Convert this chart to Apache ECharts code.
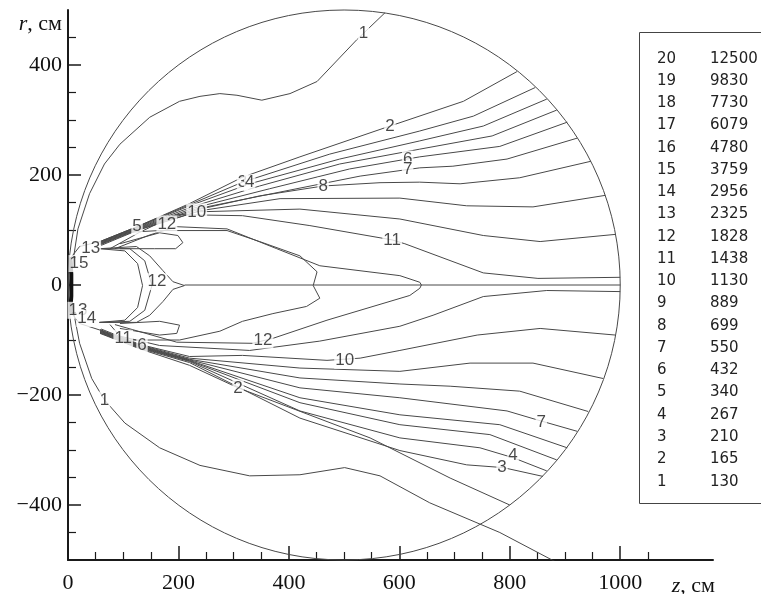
<!DOCTYPE html>
<html>
<head>
<meta charset="utf-8">
<script src="https://cdn.jsdelivr.net/npm/echarts@6/dist/echarts.min.js"></script>
<style>
  html, body { margin: 0; padding: 0; background: #fff; }
  #chart { width: 761px; height: 594px; }
</style>
</head>
<body>
<div id="chart"></div>
<script>
// Level table: contour number and the value it stands for
const levelIds = [20, 19, 18, 17, 16, 15, 14, 13, 12, 11, 10, 9, 8, 7, 6, 5, 4, 3, 2, 1];
const levelValues = [12500, 9830, 7730, 6079, 4780, 3759, 2956, 2325, 1828, 1438, 1130, 889, 699, 550, 432, 340, 267, 210, 165, 130];

// Axis ticks (cm)
const zMajorTicks = [0, 200, 400, 600, 800, 1000];
const zMinorTicks = [50, 100, 150, 250, 300, 350, 450, 500, 550, 650, 700, 750, 850, 900, 950, 1050];
const rMajorTicks = [-400, -200, 0, 200, 400];
const rMinorTicks = [-450, -350, -300, -250, -150, -100, -50, 50, 100, 150, 250, 300, 350, 450];

// Spherical boundary of the calculation domain
const sphereCenter = [500, 0];
const sphereRadius = 500;

// Contour lines, points as [z, r] in cm
const iso1Upper = [[3,0],[7,30],[18,102],[39,166],[66,220],[94,256],[148,305],[202,334],[239,343],[275,348],[306,345],[351,336],[402,348],[451,370],[523,446],[574,495]];
const iso1Lower = [[3,0],[7,-33],[21,-106],[43,-170],[66,-209],[103,-251],[166,-296],[239,-328],[329,-347],[420,-345],[501,-332],[565,-347],[655,-396],[782,-450],[905,-515]];
const iso2Upper = [[58,79],[125,106],[220,148],[316,196],[420,233],[583,289],[716,334],[813,388]];
const iso3Upper = [[58,79],[125,106],[220,146],[316,187],[474,238],[637,280],[734,307],[846,359]];
const iso4Upper = [[58,78],[125,105],[220,144],[329,184],[492,229],[637,262],[752,289],[867,338]];
const iso5Upper = [[58,77],[125,104],[224,142],[347,180],[492,220],[637,247],[768,271],[885,318]];
const iso6Upper = [[58,76],[125,103],[228,140],[365,175],[510,211],[637,233],[782,252],[904,296]];
const iso7Upper = [[58,75],[125,102],[231,138],[384,169],[529,198],[637,213],[697,216],[795,229],[922,267]];
const iso8Upper = [[58,74],[125,101],[235,137],[347,162],[462,180],[565,186],[637,187],[710,184],[818,195],[947,225]];
const iso9Upper = [[58,73],[125,100],[239,135],[384,157],[601,158],[722,144],[842,142],[973,163]];
const iso10Upper = [[60,72],[125,99],[233,133],[420,138],[601,120],[752,90],[855,79],[991,92]];
const iso11Upper = [[76,66],[130,96],[197,128],[316,126],[438,108],[587,82],[610,75],[752,22],[851,12],[1000,14]];
const iso12Upper = [[85,66],[148,91],[197,106],[288,102],[378,66],[456,35],[601,17],[637,5],[640,0]];
const iso12Lower = [[640,0],[637,-6],[619,-19],[469,-64],[371,-97],[334,-106],[197,-104],[85,-72]];
const iso11Lower = [[76,-72],[94,-93],[166,-110],[329,-119],[456,-102],[601,-75],[661,-55],[752,-21],[867,-10],[1000,-12]];
const iso10Lower = [[60,-80],[130,-108],[220,-130],[316,-128],[469,-137],[529,-133],[601,-119],[741,-91],[855,-79],[991,-91]];
const iso9Lower = [[58,-81],[130,-109],[220,-133],[420,-151],[601,-157],[728,-142],[842,-142],[969,-170]];
const iso8Lower = [[58,-82],[130,-110],[220,-135],[420,-169],[601,-180],[692,-184],[818,-193],[942,-230]];
const iso7Lower = [[58,-83],[130,-111],[220,-136],[420,-187],[601,-205],[795,-229],[849,-245],[922,-266]];
const iso6Lower = [[58,-84],[130,-112],[220,-137],[420,-205],[601,-236],[782,-254],[904,-296]];
const iso5Lower = [[58,-85],[130,-113],[220,-138],[420,-214],[601,-254],[764,-272],[885,-318]];
const iso4Lower = [[58,-86],[130,-114],[220,-139],[420,-229],[601,-278],[746,-296],[806,-314],[867,-338]];
const iso3Lower = [[58,-87],[130,-115],[220,-141],[420,-242],[601,-301],[722,-327],[788,-332],[860,-348]];
const iso2Lower = [[58,-88],[130,-116],[220,-146],[308,-187],[547,-278],[692,-351],[800,-400]];
const notchLobe = [[112,96],[166,99],[288,99],[347,79],[420,53],[451,24],[444,-1],[456,-24],[432,-39],[371,-52],[316,-66],[275,-84],[202,-100],[112,-100]];
const lobeOuter = [[57,66],[124,70],[148,53],[172,26],[190,6],[211,-1],[190,-8],[172,-30],[148,-55],[124,-68],[57,-68]];
const lobeMiddle = [[57,66],[112,66],[139,44],[152,-1],[139,-46],[112,-66],[57,-68]];
const lobeInner = [[57,66],[103,62],[126,39],[135,-1],[126,-41],[103,-64],[57,-68]];
const smallUpper = [[94,75],[166,95],[199,90],[208,77],[195,66],[157,66],[94,66]];
const smallLower = [[94,-70],[166,-66],[202,-73],[197,-88],[166,-91],[94,-79]];
const iso13 = [[58,79],[21,70],[7,52],[1,21],[0.5,0],[1,-24],[7,-52],[21,-70],[58,-82]];
const coreIsos = [[4,50],[6,20],[6,0],[6,-20],[4,-50]];
const symmetryAxis = [[211,0],[1000,0]];

// Contour number labels placed on the lines: [z, r, text]
const contourLabels = [
  [535,457,'1'], [583,289,'2'], [316,187,'3'], [329,186,'4'], [615,229,'6'], [615,210,'7'],
  [462,180,'8'], [233,133,'10'], [587,82,'11'], [179,111,'12'], [125,106,'5'], [41,66,'13'],
  [20,39,'15'], [161,6,'12'],
  [66,-209,'1'], [308,-187,'2'], [353,-100,'12'], [501,-137,'10'], [857,-249,'7'], [806,-310,'4'],
  [786,-332,'3'], [100,-97,'11'], [134,-109,'6'], [18,-46,'13'], [34,-61,'14']
];

const thinLines = [iso1Upper, iso1Lower, iso2Upper, iso3Upper, iso4Upper, iso5Upper, iso6Upper, iso7Upper,
  iso8Upper, iso9Upper, iso10Upper, iso11Upper, iso12Upper, iso12Lower, iso11Lower, iso10Lower,
  iso9Lower, iso8Lower, iso7Lower, iso6Lower, iso5Lower, iso4Lower, iso3Lower, iso2Lower,
  notchLobe, lobeOuter, lobeMiddle, lobeInner, smallUpper, smallLower, iso13, symmetryAxis];

const LINE_COLOR = '#484848';
const SERIF = '"Liberation Serif", "Times New Roman", serif';
const SANS = '"Liberation Sans", Arial, sans-serif';
const TABLE_FONT = '"DejaVu Sans", Verdana, sans-serif';

const chart = echarts.init(document.getElementById('chart'), null, { renderer: 'canvas' });

const series = thinLines.map(pts => ({
  type: 'line', data: pts, symbol: 'none', silent: true, animation: false,
  lineStyle: { color: LINE_COLOR, width: 1 }, z: 2
}));

series.push({
  type: 'line', data: coreIsos, symbol: 'none', silent: true, animation: false,
  lineStyle: { color: '#111', width: 4 }, z: 2
});

// Domain boundary circle drawn through the axis scales
series.push({
  type: 'custom', silent: true, animation: false, z: 2,
  data: [sphereCenter],
  renderItem: (params, api) => {
    const c = api.coord([api.value(0), api.value(1)]);
    const s = api.size([sphereRadius, sphereRadius]);
    return {
      type: 'ellipse',
      shape: { cx: c[0], cy: c[1], rx: s[0], ry: s[1] },
      style: { fill: null, stroke: LINE_COLOR, lineWidth: 1 }
    };
  }
});

// Inline contour labels with a white knock-out behind the text
series.push({
  type: 'scatter', silent: true, animation: false, z: 5,
  symbolSize: 0,
  data: contourLabels.map(d => ({ value: [d[0], d[1]], name: d[2] })),
  label: {
    show: true, position: 'inside', formatter: p => p.name,
    fontFamily: SANS, fontSize: 17, color: '#1a1a1a',
    backgroundColor: '#fff', padding: [0, 1]
  }
});

const minus = v => (v < 0 ? '\u2212' + (-v) : String(v));

const axisLineStyle = { show: true, onZero: false, lineStyle: { color: '#1a1a1a', width: 2 } };

chart.setOption({
  animation: false,
  grid: { left: 68, right: 48, top: 10, bottom: 31, containLabel: false },
  xAxis: [
    {
      type: 'value', min: 0, max: 1168, position: 'bottom',
      axisLine: axisLineStyle,
      axisTick: { show: true, inside: true, length: 14, customValues: zMajorTicks, lineStyle: { color: '#1a1a1a', width: 1.5 } },
      axisLabel: { show: true, customValues: zMajorTicks, margin: 12, fontFamily: SERIF, fontSize: 22, color: '#111', formatter: minus },
      splitLine: { show: false }
    },
    {
      type: 'value', min: 0, max: 1168, position: 'bottom',
      axisLine: { show: false, onZero: false },
      axisTick: { show: true, inside: true, length: 8, customValues: zMinorTicks, lineStyle: { color: '#1a1a1a', width: 1.2 } },
      axisLabel: { show: false },
      splitLine: { show: false }
    }
  ],
  yAxis: [
    {
      type: 'value', min: -500, max: 500, position: 'left',
      axisLine: axisLineStyle,
      axisTick: { show: true, inside: true, length: 13, customValues: rMajorTicks, lineStyle: { color: '#1a1a1a', width: 1.5 } },
      axisLabel: { show: true, customValues: rMajorTicks, margin: 6, fontFamily: SERIF, fontSize: 22, color: '#111', formatter: minus },
      splitLine: { show: false }
    },
    {
      type: 'value', min: -500, max: 500, position: 'left',
      axisLine: { show: false, onZero: false },
      axisTick: { show: true, inside: true, length: 8, customValues: rMinorTicks, lineStyle: { color: '#1a1a1a', width: 1.2 } },
      axisLabel: { show: false },
      splitLine: { show: false }
    }
  ],
  series: series,
  graphic: [
    {
      type: 'text', x: 62, y: 24, silent: true,
      style: {
        text: '{i|r}, см', align: 'right', verticalAlign: 'middle',
        fontFamily: SERIF, fontSize: 22, fill: '#111',
        rich: { i: { fontStyle: 'italic', fontFamily: SERIF, fontSize: 22 } }
      }
    },
    {
      type: 'text', x: 715, y: 586, silent: true,
      style: {
        text: '{i|z}, см', align: 'right', verticalAlign: 'middle',
        fontFamily: SERIF, fontSize: 22, fill: '#111',
        rich: { i: { fontStyle: 'italic', fontFamily: SERIF, fontSize: 22 } }
      }
    },
    {
      type: 'rect', silent: true, z: 10,
      shape: { x: 639.5, y: 32.5, width: 140, height: 471 },
      style: { fill: '#fff', stroke: '#444', lineWidth: 1 }
    },
    ...levelIds.map((id, i) => ({
      type: 'text', silent: true, z: 11, x: 657, y: 58.7 + i * 22.26,
      style: { text: String(id), fontFamily: TABLE_FONT, fontSize: 15, fill: '#222', verticalAlign: 'middle', align: 'left' }
    })),
    ...levelValues.map((v, i) => ({
      type: 'text', silent: true, z: 11, x: 710, y: 58.7 + i * 22.26,
      style: { text: String(v), fontFamily: TABLE_FONT, fontSize: 15, fill: '#222', verticalAlign: 'middle', align: 'left' }
    }))
  ]
});
</script>
</body>
</html>
